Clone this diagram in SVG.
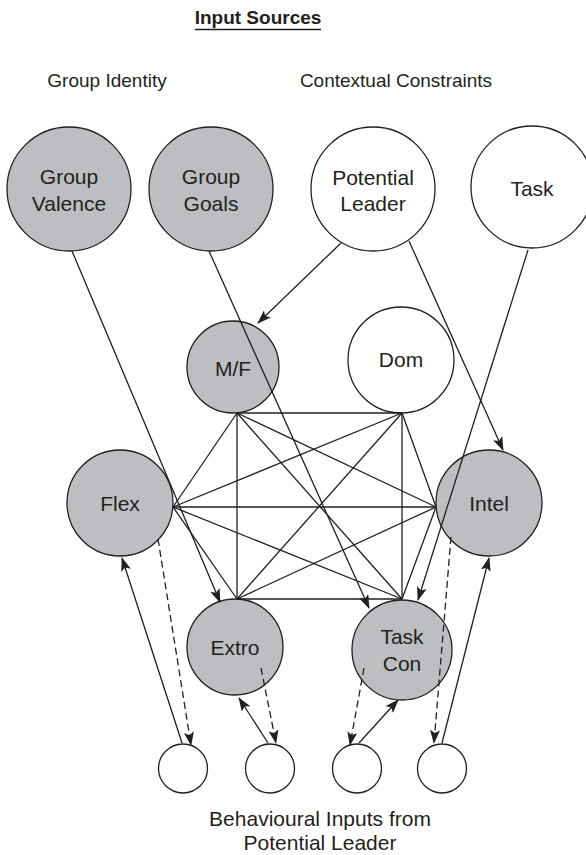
<svg xmlns="http://www.w3.org/2000/svg" width="586" height="855" viewBox="0 0 586 855">
  <style>
    .node { stroke: #231f20; stroke-width: 1.3; }
    .shaded { fill: #bdbec1; }
    .plain { fill: #ffffff; }
    .lbl { font-family: "Liberation Sans", Arial, sans-serif; font-size: 21px; fill: #231f20; text-anchor: middle; }
    .head { font-family: "Liberation Sans", Arial, sans-serif; font-size: 19px; fill: #231f20; text-anchor: middle; }
    .edge { stroke: #231f20; stroke-width: 1.3; fill: none; }
    .arrow { marker-end: url(#tip); }
    .dash { stroke-dasharray: 7 4; }
  </style>
  <defs>
    <marker id="tip" markerUnits="userSpaceOnUse" viewBox="0 0 14 10" refX="13" refY="5" markerWidth="14" markerHeight="10" orient="auto">
      <path d="M0,0 L14,5 L0,10 L3,5 z" fill="#231f20"/>
    </marker>
  </defs>

  <rect width="586" height="855" fill="#ffffff"/>

  <!-- headings -->
  <g id="headings">
    <text class="head" x="258" y="24" font-weight="bold">Input Sources</text>
    <line x1="195" y1="29.5" x2="321" y2="29.5" stroke="#231f20" stroke-width="1.3"/>
    <text class="head" x="107" y="87">Group Identity</text>
    <text class="head" x="396" y="87">Contextual Constraints</text>
  </g>

  <!-- source nodes -->
  <g id="group-valence">
    <circle class="node shaded" cx="69" cy="189" r="62"/>
    <text class="lbl" x="69" y="184">Group</text>
    <text class="lbl" x="69" y="211">Valence</text>
  </g>
  <g id="group-goals">
    <circle class="node shaded" cx="211" cy="189" r="62"/>
    <text class="lbl" x="211" y="184">Group</text>
    <text class="lbl" x="211" y="211">Goals</text>
  </g>
  <g id="potential-leader">
    <circle class="node plain" cx="373" cy="189" r="62"/>
    <text class="lbl" x="373" y="185">Potential</text>
    <text class="lbl" x="373" y="211">Leader</text>
  </g>
  <g id="task">
    <circle class="node plain" cx="532" cy="187" r="61"/>
    <text class="lbl" x="532" y="196">Task</text>
  </g>

  <!-- trait nodes -->
  <g id="mf">
    <circle class="node shaded" cx="233" cy="367" r="46"/>
    <text class="lbl" x="233" y="376">M/F</text>
  </g>
  <g id="dom">
    <circle class="node plain" cx="401" cy="360" r="53"/>
    <text class="lbl" x="401" y="367">Dom</text>
  </g>
  <g id="flex">
    <circle class="node shaded" cx="120" cy="503" r="53"/>
    <text class="lbl" x="120" y="511">Flex</text>
  </g>
  <g id="intel">
    <circle class="node shaded" cx="489" cy="503" r="53"/>
    <text class="lbl" x="489" y="511">Intel</text>
  </g>
  <g id="extro">
    <circle class="node shaded" cx="235" cy="647" r="48"/>
    <text class="lbl" x="235" y="655">Extro</text>
  </g>
  <g id="task-con">
    <circle class="node shaded" cx="402" cy="650" r="50"/>
    <text class="lbl" x="402" y="644">Task</text>
    <text class="lbl" x="402" y="671">Con</text>
  </g>

  <!-- behavioural input nodes -->
  <g id="input-1"><circle class="node plain" cx="183" cy="768.5" r="24.5"/></g>
  <g id="input-2"><circle class="node plain" cx="270" cy="768.5" r="24.5"/></g>
  <g id="input-3"><circle class="node plain" cx="357" cy="768.5" r="24.5"/></g>
  <g id="input-4"><circle class="node plain" cx="442" cy="768.5" r="24.5"/></g>

  <!-- connectors, drawn over the circles -->
  <g id="connectors">
    <!-- fully connected core -->
    <line class="edge" x1="237" y1="413" x2="402" y2="413"/>
    <line class="edge" x1="237" y1="599" x2="402" y2="599"/>
    <line class="edge" x1="237" y1="413" x2="237" y2="599"/>
    <line class="edge" x1="402" y1="413" x2="402" y2="599"/>
    <line class="edge" x1="237" y1="413" x2="402" y2="599"/>
    <line class="edge" x1="402" y1="413" x2="237" y2="599"/>
    <line class="edge" x1="173" y1="507" x2="436" y2="507"/>
    <line class="edge" x1="173" y1="507" x2="237" y2="413"/>
    <line class="edge" x1="173" y1="507" x2="402" y2="413"/>
    <line class="edge" x1="173" y1="507" x2="237" y2="599"/>
    <line class="edge" x1="173" y1="507" x2="402" y2="599"/>
    <line class="edge" x1="436" y1="507" x2="237" y2="413"/>
    <line class="edge" x1="436" y1="507" x2="402" y2="413"/>
    <line class="edge" x1="436" y1="507" x2="237" y2="599"/>
    <line class="edge" x1="436" y1="507" x2="402" y2="599"/>

    <!-- input sources -->
    <line class="edge arrow" x1="72" y1="251" x2="220" y2="602"/>
    <line class="edge arrow" x1="209" y1="251" x2="369" y2="608"/>
    <line class="edge arrow" x1="341" y1="243" x2="258" y2="323"/>
    <line class="edge arrow" x1="409" y1="241" x2="503" y2="450"/>
    <line class="edge arrow" x1="528" y1="250" x2="418" y2="600"/>

    <!-- behavioural inputs -->
    <line class="edge arrow" x1="182" y1="743" x2="122" y2="558"/>
    <line class="edge arrow dash" x1="158" y1="539" x2="191" y2="745"/>
    <line class="edge arrow" x1="268" y1="743" x2="239" y2="698"/>
    <line class="edge arrow dash" x1="261" y1="668" x2="276" y2="743"/>
    <line class="edge arrow dash" x1="364" y1="668" x2="350" y2="745"/>
    <line class="edge arrow" x1="359" y1="743" x2="398" y2="700"/>
    <line class="edge arrow dash" x1="451" y1="537" x2="434" y2="743"/>
    <line class="edge arrow" x1="442" y1="743" x2="489" y2="558"/>
  </g>

  <g id="footer">
    <text class="lbl" x="320" y="826">Behavioural Inputs from</text>
    <text class="lbl" x="320" y="850">Potential Leader</text>
  </g>
</svg>
